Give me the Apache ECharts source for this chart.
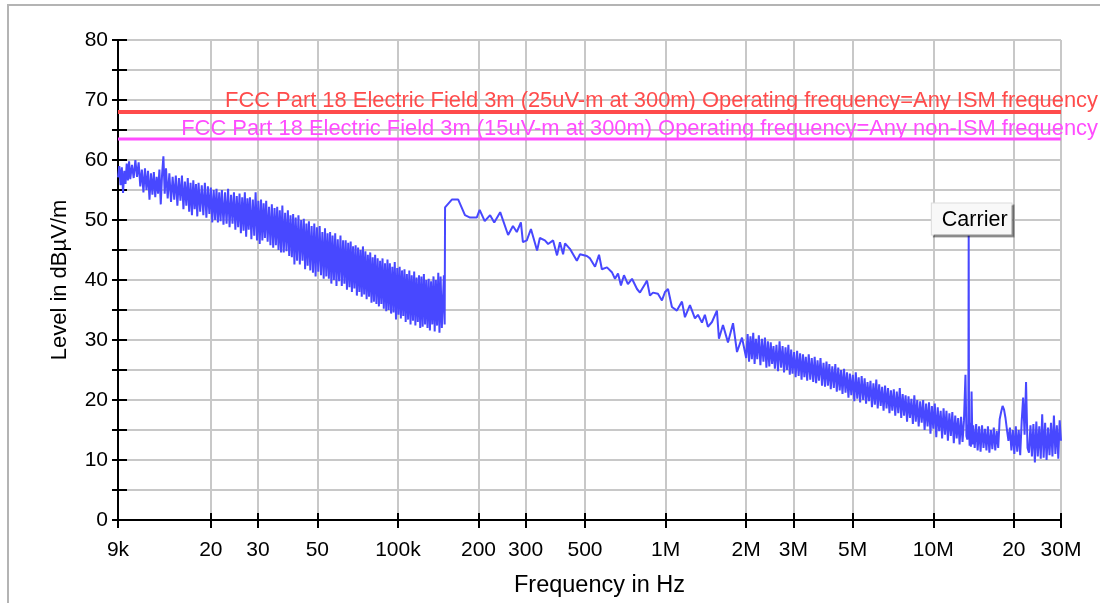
<!DOCTYPE html>
<html>
<head>
<meta charset="utf-8">
<title>FCC Part 18 radiated emissions</title>
<script src="https://cdn.jsdelivr.net/npm/echarts@6/dist/echarts.min.js"></script>
<style>
  html, body { margin: 0; padding: 0; background: #fff; }
  #chart { width: 1100px; height: 603px; }
</style>
</head>
<body>
<div id="chart"></div>
<script>
// sweep 9 kHz .. 150 kHz (noisy band)
const sweepA_kHz = [
  9.0, 9.1, 9.2, 9.3, 9.4, 9.5, 9.6, 9.7, 9.8, 9.9,
  10.0, 10.15, 10.3, 10.45, 10.6, 10.75, 10.9, 11.05, 11.2, 11.35,
  11.5, 11.65, 11.8, 11.95, 12.1, 12.25, 12.4, 12.55, 12.7, 12.85,
  13.0, 13.15, 13.3, 13.45, 13.6, 13.8, 14.0, 14.2, 14.4, 14.6,
  14.8, 15.0, 15.2, 15.4, 15.6, 15.8, 16.0, 16.2, 16.4, 16.6,
  16.8, 17.0, 17.2, 17.4, 17.6, 17.8, 18.0, 18.25, 18.5, 18.75,
  19.0, 19.25, 19.5, 19.75, 20.0, 20.25, 20.5, 20.75, 21.0, 21.25,
  21.5, 21.75, 22.0, 22.3, 22.6, 22.9, 23.2, 23.5, 23.8, 24.1,
  24.4, 24.7, 25.0, 25.3, 25.6, 25.9, 26.2, 26.5, 26.8, 27.1,
  27.4, 27.7, 28.0, 28.35, 28.7, 29.05, 29.4, 29.75, 30.1, 30.45,
  30.8, 31.15, 31.5, 31.85, 32.2, 32.6, 33.0, 33.4, 33.8, 34.2,
  34.6, 35.0, 35.4, 35.8, 36.2, 36.6, 37.0, 37.45, 37.9, 38.35,
  38.8, 39.25, 39.7, 40.15, 40.6, 41.05, 41.5, 42.0, 42.5, 43.0,
  43.5, 44.0, 44.5, 45.0, 45.5, 46.0, 46.5, 47.05, 47.6, 48.15,
  48.7, 49.25, 49.8, 50.4, 51.0, 51.6, 52.2, 52.8, 53.4, 54.0,
  54.6, 55.2, 55.8, 56.4, 57.0, 57.65, 58.3, 58.95, 59.6, 60.3,
  61.0, 61.7, 62.4, 63.1, 63.8, 64.5, 65.2, 65.9, 66.6, 67.3,
  68.0, 68.75, 69.5, 70.25, 71.0, 71.75, 72.5, 73.25, 74.0, 74.8,
  75.6, 76.4, 77.2, 78.0, 78.8, 79.65, 80.5, 81.35, 82.2, 83.1,
  84.0, 84.9, 85.8, 86.7, 87.6, 88.55, 89.5, 90.45, 91.4, 92.35,
  93.3, 94.3, 95.3, 96.3, 97.3, 98.35, 99.4, 100.45, 101.5, 102.55,
  103.6, 104.7, 105.8, 106.9, 108.0, 109.15, 110.3, 111.45, 112.6, 113.8,
  115.0, 116.2, 117.4, 118.65, 119.9, 121.15, 122.4, 123.7, 125.0, 126.3,
  127.6, 128.95, 130.3, 131.65, 133.0, 134.4, 135.8, 137.2, 138.6, 140.05,
  141.5, 142.95, 144.4, 145.9, 147.4, 148.45, 149.5
];
const levelA = [
  57.1, 59.0, 55.8, 58.8, 54.5, 58.2, 56.0, 59.4, 56.6, 59.8,
  56.8, 59.2, 57.0, 60.0, 57.2, 59.6, 55.6, 58.4, 54.6, 58.6,
  55.0, 58.2, 53.4, 57.8, 54.2, 58.0, 53.8, 57.2, 54.4, 58.4,
  52.6, 57.6, 60.6, 54.4, 58.6, 53.6, 57.8, 53.0, 57.2, 53.4,
  57.4, 52.4, 57.0, 53.2, 57.4, 51.8, 56.4, 52.4, 57.0, 51.4,
  56.2, 50.8, 56.6, 51.8, 56.0, 50.6, 56.2, 51.4, 55.8, 50.8,
  56.2, 50.4, 55.6, 51.0, 55.4, 49.6, 55.0, 50.0, 55.2, 49.6,
  54.6, 49.8, 55.0, 49.2, 54.6, 49.4, 55.2, 48.8, 54.2, 49.4,
  54.6, 48.4, 54.0, 48.8, 54.4, 47.8, 53.8, 48.2, 54.6, 47.2,
  53.6, 48.4, 53.8, 46.8, 53.4, 47.4, 54.6, 46.6, 53.2, 46.0,
  53.4, 46.6, 52.8, 47.0, 53.2, 46.4, 52.2, 45.8, 52.6, 45.4,
  52.0, 45.8, 52.2, 45.0, 51.6, 44.6, 52.4, 44.6, 51.2, 44.8,
  51.6, 44.0, 50.8, 43.8, 51.0, 42.6, 50.4, 43.2, 50.8, 42.6,
  50.0, 43.2, 50.2, 41.8, 49.4, 42.4, 49.8, 41.6, 49.0, 41.2,
  49.4, 40.6, 48.8, 41.4, 49.0, 40.8, 48.0, 40.2, 48.6, 40.6,
  47.8, 40.2, 48.0, 39.4, 47.4, 40.0, 47.8, 39.0, 46.8, 39.8,
  47.4, 39.0, 46.6, 39.4, 46.6, 38.4, 46.2, 38.8, 46.4, 38.0,
  45.6, 38.6, 45.8, 37.4, 45.4, 38.0, 45.0, 37.2, 45.6, 37.6,
  44.8, 36.8, 44.2, 37.2, 44.6, 36.2, 43.8, 36.4, 44.2, 36.0,
  43.6, 35.6, 43.2, 36.0, 43.6, 35.2, 42.8, 34.8, 43.4, 35.0,
  42.8, 34.4, 42.2, 34.6, 43.0, 33.4, 42.0, 34.2, 42.2, 33.6,
  41.6, 34.0, 41.8, 33.0, 41.0, 33.4, 41.6, 32.6, 40.8, 33.2,
  41.4, 32.4, 40.4, 33.0, 40.8, 32.0, 40.6, 32.2, 41.0, 32.6,
  40.0, 32.0, 40.2, 31.6, 39.8, 32.6, 40.6, 31.4, 40.0, 32.4,
  41.2, 31.2, 40.6, 32.0, 31.8, 40.8, 32.6
];

// sweep 150 kHz .. 2 MHz
const sweepB_kHz = [
  150.0, 159, 168, 178, 186, 197, 202, 211, 221, 229,
  241, 258, 269, 278, 288, 293, 303, 314, 331, 339,
  354, 364, 380, 393, 403, 414, 421, 439, 466, 479,
  508, 522, 545, 564, 578, 604, 630, 647, 664, 681,
  699, 723, 749, 782, 802, 837, 852, 874, 897, 936,
  969, 995, 1021, 1056, 1102, 1151, 1181, 1233, 1287, 1321,
  1367, 1402, 1439, 1490, 1555, 1582, 1638, 1710, 1786, 1848,
  1929
];
const levelB = [
  52.1, 53.4, 53.4, 50.8, 50.4, 50.4, 51.7, 49.8, 50.8, 49.6,
  51.3, 47.5, 49.0, 48.0, 49.6, 46.3, 46.6, 48.5, 44.9, 47.0,
  46.6, 46.0, 46.6, 44.1, 46.3, 44.3, 46.1, 45.2, 43.2, 44.3,
  44.0, 43.6, 42.2, 44.2, 41.8, 42.1, 41.3, 40.2, 41.1, 39.1,
  40.8, 39.3, 40.2, 38.5, 37.9, 39.3, 39.9, 37.4, 37.9, 37.7,
  36.6, 38.0, 38.5, 35.5, 34.9, 36.4, 33.8, 35.8, 33.6, 34.2,
  32.9, 34.2, 32.2, 33.0, 34.9, 30.2, 32.5, 29.6, 32.8, 28.0,
  30.4
];

// sweep 2 MHz .. 30 MHz (carrier at 13.56 MHz)
const sweepC_MHz = [
  2.00, 2.025, 2.05, 2.075, 2.10, 2.125, 2.15, 2.175, 2.20, 2.23,
  2.26, 2.29, 2.32, 2.35, 2.38, 2.41, 2.44, 2.47, 2.50, 2.53,
  2.56, 2.595, 2.63, 2.665, 2.70, 2.735, 2.77, 2.805, 2.84, 2.875,
  2.91, 2.945, 2.98, 3.02, 3.06, 3.10, 3.14, 3.18, 3.22, 3.26,
  3.30, 3.34, 3.38, 3.425, 3.47, 3.515, 3.56, 3.605, 3.65, 3.695,
  3.74, 3.79, 3.84, 3.89, 3.94, 3.99, 4.04, 4.09, 4.14, 4.195,
  4.25, 4.305, 4.36, 4.415, 4.47, 4.525, 4.58, 4.64, 4.70, 4.76,
  4.82, 4.88, 4.94, 5.005, 5.07, 5.135, 5.20, 5.265, 5.33, 5.40,
  5.47, 5.54, 5.61, 5.68, 5.75, 5.825, 5.90, 5.975, 6.05, 6.125,
  6.20, 6.28, 6.36, 6.44, 6.52, 6.605, 6.69, 6.775, 6.86, 6.945,
  7.03, 7.12, 7.21, 7.305, 7.40, 7.495, 7.59, 7.685, 7.78, 7.88,
  7.98, 8.08, 8.18, 8.285, 8.39, 8.495, 8.60, 8.71, 8.82, 8.935,
  9.05, 9.165, 9.28, 9.40, 9.52, 9.64, 9.76, 9.88, 10.0, 10.13,
  10.26, 10.39, 10.52, 10.655, 10.79, 10.925, 11.06, 11.2, 11.34, 11.485,
  11.63, 11.78, 11.93, 12.08, 12.23, 12.385, 12.54, 12.70, 12.86, 13.02,
  13.19, 13.30, 13.40, 13.52, 13.56, 13.60, 13.67, 13.75, 13.82, 13.90,
  14.00, 14.10, 14.28, 14.46, 14.645, 14.83, 15.02, 15.21, 15.405, 15.60,
  15.80, 16.00, 16.205, 16.41, 16.62, 16.83, 17.045, 17.26, 17.48, 17.70,
  17.925, 18.15, 18.38, 18.61, 18.85, 19.09, 19.335, 19.58, 19.83, 20.08,
  20.335, 20.59, 20.855, 21.12, 21.39, 21.66, 21.935, 22.21, 22.495, 22.78,
  23.07, 23.36, 23.66, 23.96, 24.265, 24.57, 24.885, 25.20, 25.52, 25.84,
  26.17, 26.50, 26.84, 27.18, 27.525, 27.87, 28.225, 28.58, 28.945, 29.31,
  29.655, 30.0
];
const levelC = [
  27.0, 31.0, 26.4, 30.6, 26.8, 31.2, 26.0, 30.2, 26.8, 30.8,
  25.8, 30.2, 26.4, 30.4, 25.4, 29.8, 25.6, 29.6, 26.0, 29.0,
  25.2, 29.2, 24.8, 29.8, 25.4, 29.0, 24.6, 28.8, 25.0, 29.2,
  24.2, 28.4, 24.4, 28.0, 23.8, 28.2, 24.0, 27.8, 23.4, 27.6,
  23.8, 27.2, 23.2, 27.6, 23.4, 27.0, 23.0, 27.2, 22.8, 26.6,
  23.2, 27.0, 22.4, 26.2, 22.2, 26.4, 22.4, 26.0, 21.8, 25.6,
  22.0, 26.0, 21.4, 25.4, 21.6, 25.0, 21.0, 25.2, 21.2, 24.6,
  20.4, 24.4, 20.8, 24.2, 19.8, 24.6, 20.2, 23.8, 19.6, 24.0,
  20.0, 23.6, 19.4, 23.0, 19.8, 23.2, 18.8, 22.8, 19.2, 23.4,
  18.6, 22.6, 19.0, 22.2, 18.2, 22.4, 18.6, 22.0, 17.8, 21.6,
  18.2, 21.8, 17.4, 21.4, 17.8, 22.0, 17.0, 21.0, 17.4, 20.8,
  16.4, 20.6, 17.0, 20.2, 16.0, 20.8, 16.4, 20.0, 15.6, 19.8,
  16.2, 20.0, 15.0, 19.4, 15.6, 19.6, 14.4, 19.0, 15.2, 19.4,
  13.8, 18.8, 14.8, 18.2, 13.6, 18.6, 14.2, 18.2, 13.2, 17.8,
  14.0, 18.0, 12.8, 17.4, 13.6, 17.0, 12.6, 17.2, 13.0, 16.6,
  24.2, 14.0, 13.4, 16.0, 47.4, 15.6, 12.4, 16.2, 12.2, 21.4,
  12.6, 15.8, 12.0, 16.0, 11.6, 15.6, 11.4, 15.8, 12.0, 15.2,
  11.6, 15.6, 11.2, 15.0, 11.8, 15.4, 11.6, 14.8, 12.0, 16.8,
  18.0, 19.0, 18.4, 17.0, 15.0, 13.2, 15.4, 11.6, 15.0, 11.0,
  15.6, 11.4, 15.0, 10.8, 16.4, 20.4, 14.2, 23.0, 12.0, 11.2,
  15.8, 10.6, 16.0, 9.6, 16.4, 10.6, 15.6, 10.2, 17.6, 10.4,
  16.2, 10.0, 15.4, 10.8, 16.2, 10.6, 17.4, 11.0, 15.8, 10.2,
  16.6, 13.2
];

const tickFreqs = [9e3, 2e4, 3e4, 5e4, 1e5, 2e5, 3e5, 5e5, 1e6, 2e6, 3e6, 5e6, 1e7, 2e7, 3e7];
const tickLabels = ['9k', '20', '30', '50', '100k', '200', '300', '500', '1M', '2M', '3M', '5M', '10M', '20', '30M'];

const limitISM = 68.0;     // 25 uV/m at 300 m -> 3 m
const limitNonISM = 63.5;  // 15 uV/m at 300 m -> 3 m
const limitISMName = 'FCC Part 18 Electric Field 3m (25uV-m at 300m) Operating frequency=Any ISM frequency';
const limitNonISMName = 'FCC Part 18 Electric Field 3m (15uV-m at 300m) Operating frequency=Any non-ISM frequency';
const carrierFreq = 13.56e6;
const carrierLevel = 47.4;

// x axis works on log10(f)
const lg = Math.log10;
const trace = [];
sweepA_kHz.forEach((f, i) => trace.push([lg(f * 1e3), levelA[i]]));
sweepB_kHz.forEach((f, i) => trace.push([lg(f * 1e3), levelB[i]]));
sweepC_MHz.forEach((f, i) => trace.push([lg(f * 1e6), levelC[i]]));

const tickPos = tickFreqs.map(lg);
const xMin = tickPos[0];
const xMax = tickPos[tickPos.length - 1];

function tickName(v) {
  let best = 0;
  tickPos.forEach((p, i) => {
    if (Math.abs(p - v) < Math.abs(tickPos[best] - v)) best = i;
  });
  return tickLabels[best];
}

const font = "'Liberation Sans', Arial, sans-serif";
const black = { color: '#000', width: 2 };
const gridLine = { color: '#c8c8c8', width: 2 };

const chart = echarts.init(document.getElementById('chart'));
chart.setOption({
  animation: false,
  textStyle: { fontFamily: font },
  grid: { left: 118, right: 39, top: 40, bottom: 81 },
  graphic: [{
    type: 'rect',
    silent: true,
    z: -10,
    shape: { x: 8, y: 5, width: 1300, height: 800 },
    style: { fill: 'none', stroke: '#b4b4b4', lineWidth: 2 }
  }],
  xAxis: [
    {
      type: 'value',
      min: xMin,
      max: xMax,
      position: 'bottom',
      axisLine: { show: true, onZero: false, lineStyle: black },
      axisTick: { show: true, length: 8, customValues: tickPos, lineStyle: black },
      axisLabel: {
        customValues: tickPos,
        formatter: tickName,
        color: '#000',
        fontSize: 21,
        margin: 20
      },
      splitLine: { show: true, lineStyle: gridLine },
      name: 'Frequency in Hz',
      nameLocation: 'middle',
      nameGap: 54,
      nameTextStyle: { color: '#000', fontSize: 23.5, padding: [0, 0, 0, 20] }
    },
    {
      // inner half of the crossing ticks
      type: 'value',
      min: xMin,
      max: xMax,
      position: 'bottom',
      axisLine: { show: false, onZero: false },
      axisTick: { show: true, inside: true, length: 7, customValues: tickPos, lineStyle: black },
      axisLabel: { show: false },
      splitLine: { show: false }
    }
  ],
  yAxis: [
    {
      type: 'value',
      min: 0,
      max: 80,
      interval: 10,
      axisLine: { show: true, onZero: false, lineStyle: black },
      axisTick: { show: true, length: 6, lineStyle: black },
      minorTick: { show: true, splitNumber: 2, length: 6, lineStyle: black },
      axisLabel: { color: '#000', fontSize: 21, margin: 10 },
      splitLine: { show: true, lineStyle: gridLine },
      minorSplitLine: { show: true, lineStyle: gridLine },
      name: 'Level in dBµV/m',
      nameLocation: 'middle',
      nameGap: 47,
      nameTextStyle: { color: '#000', fontSize: 22 }
    },
    {
      type: 'value',
      min: 0,
      max: 80,
      interval: 10,
      position: 'left',
      axisLine: { show: false, onZero: false },
      axisTick: { show: true, inside: true, length: 9, lineStyle: black },
      minorTick: { show: true, splitNumber: 2, length: 9, lineStyle: black },
      axisLabel: { show: false },
      splitLine: { show: false }
    }
  ],
  series: [
    {
      name: 'ISM limit',
      type: 'line',
      silent: true,
      data: [[xMin, limitISM], [xMax, limitISM]],
      showSymbol: false,
      lineStyle: { color: '#ff4b4b', width: 4 },
      itemStyle: { color: '#ff4b4b' },
      markPoint: {
        symbol: 'rect',
        symbolSize: 0,
        data: [{ coord: [xMax, limitISM] }],
        label: {
          show: true,
          position: 'top',
          distance: 0,
          align: 'right',
          offset: [37, 0],
          formatter: limitISMName,
          color: '#ff4b4b',
          fontSize: 21.9
        }
      }
    },
    {
      name: 'non-ISM limit',
      type: 'line',
      silent: true,
      data: [[xMin, limitNonISM], [xMax, limitNonISM]],
      showSymbol: false,
      lineStyle: { color: '#ff4cff', width: 3 },
      itemStyle: { color: '#ff4cff' },
      markPoint: {
        symbol: 'rect',
        symbolSize: 0,
        data: [{ coord: [xMax, limitNonISM] }],
        label: {
          show: true,
          position: 'top',
          distance: 0,
          align: 'right',
          offset: [37, 1],
          formatter: limitNonISMName,
          color: '#ff4cff',
          fontSize: 21.9
        }
      }
    },
    {
      name: 'Level',
      type: 'line',
      data: trace,
      showSymbol: false,
      lineStyle: { color: '#4848ff', width: 2 },
      itemStyle: { color: '#4848ff' },
      markPoint: {
        symbol: 'rect',
        symbolSize: 0,
        data: [{ coord: [lg(carrierFreq), carrierLevel] }],
        label: {
          show: true,
          position: 'top',
          distance: 1,
          offset: [3, 0],
          formatter: 'Carrier',
          color: '#000',
          fontSize: 21.5,
          backgroundColor: '#f8f8f8',
          borderColor: '#dcdcdc',
          borderWidth: 1,
          padding: [5, 4, 4, 10],
          shadowColor: 'rgba(0,0,0,0.35)',
          shadowOffsetX: 2,
          shadowOffsetY: 2,
          shadowBlur: 0
        }
      }
    }
  ]
});
</script>
</body>
</html>
